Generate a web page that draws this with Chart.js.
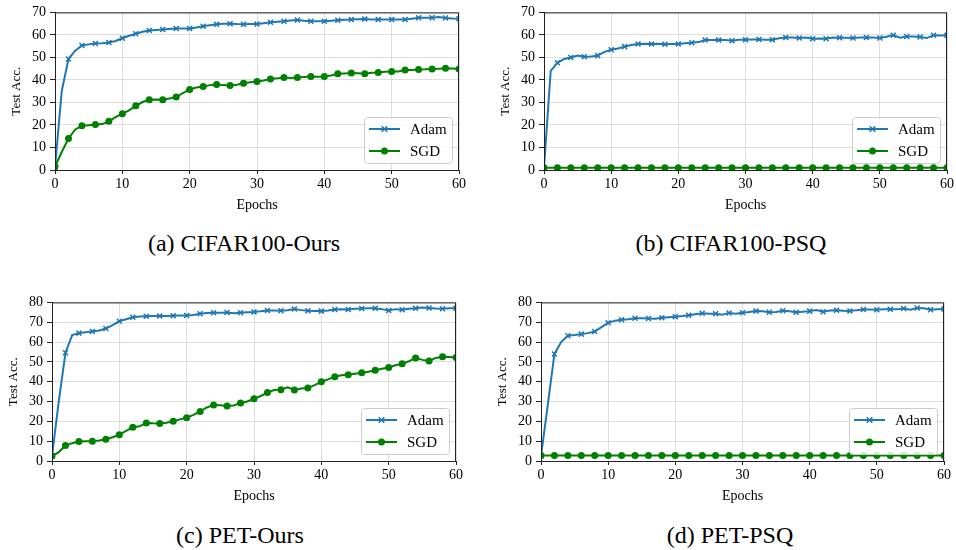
<!DOCTYPE html>
<html>
<head>
<meta charset="utf-8">
<script src="https://cdn.jsdelivr.net/npm/chart.js@4/dist/chart.umd.min.js"></script>
<style>
  body { margin: 0; background: #fff; }
  #wrap { position: relative; width: 956px; height: 550px; overflow: hidden; }
  .panel { position: absolute; }
  .caption { position: absolute; font-family: 'Liberation Serif', 'Times New Roman', serif; font-size: 24px; color: #000; transform: translate(-50%, -50%); white-space: nowrap; }
</style>
</head>
<body>
<div id="wrap"></div>
<script>
const epochs = [
  0, 1, 2, 3, 4, 5, 6, 7, 8, 9,
  10, 11, 12, 13, 14, 15, 16, 17, 18, 19,
  20, 21, 22, 23, 24, 25, 26, 27, 28, 29,
  30, 31, 32, 33, 34, 35, 36, 37, 38, 39,
  40, 41, 42, 43, 44, 45, 46, 47, 48, 49,
  50, 51, 52, 53, 54, 55, 56, 57, 58, 59, 60
];
const xTicks = [0, 10, 20, 30, 40, 50, 60];
const yTicks70 = [0, 10, 20, 30, 40, 50, 60, 70];
const yTicks80 = [0, 10, 20, 30, 40, 50, 60, 70, 80];
const seriesNames = ['Adam', 'SGD'];
const captions = ['(a) CIFAR100-Ours', '(b) CIFAR100-PSQ', '(c) PET-Ours', '(d) PET-PSQ'];

const cifarOursAdam = [
  1, 35, 49.3, 53, 55.3, 55.8, 56.2, 56.3, 56.6, 57.3,
  58.5, 59.6, 60.5, 61.4, 62, 62.2, 62.4, 62.6, 62.8, 62.8,
  62.9, 63.3, 63.9, 64.3, 64.7, 65, 65, 64.8, 64.7, 64.8,
  64.8, 65.2, 65.6, 65.9, 66.1, 66.4, 66.6, 66.3, 66.1, 66.1,
  66.1, 66.3, 66.5, 66.7, 66.8, 67, 67.1, 66.9, 66.8, 66.8,
  66.8, 66.8, 66.8, 67.2, 67.6, 67.6, 67.6, 67.9, 67.5, 67.3, 67.2
];
const cifarOursSgd = [
  1.5, 8, 14, 18, 19.6, 19.9, 20.2, 20.4, 21.6, 23.5,
  25, 26.5, 28.5, 30.2, 31.2, 31.3, 31.2, 31.8, 32.4, 34.2,
  35.8, 36.6, 37.1, 37.7, 38, 37.7, 37.5, 37.9, 38.5, 39,
  39.3, 39.8, 40.4, 40.7, 41.1, 40.9, 41.1, 41.3, 41.5, 41.4,
  41.5, 42, 42.7, 42.9, 43.1, 43, 42.8, 43.2, 43.3, 43.6,
  43.8, 43.8, 44.4, 44.4, 44.6, 44.7, 44.9, 45, 45.2, 45.1, 44.9
];
const cifarPsqAdam = [
  1, 44, 47.6, 49.3, 50, 50.8, 50.3, 50.4, 50.8, 52.5,
  53.4, 54, 54.8, 55.5, 56, 56.1, 56, 56.1, 55.9, 56,
  56, 56.3, 56.5, 56.8, 57.7, 57.7, 57.7, 57.7, 57.4, 57.8,
  57.9, 58, 58, 57.8, 57.9, 58.5, 58.8, 58.9, 58.6, 58.8,
  58.3, 58.4, 58.3, 58.8, 58.7, 58.7, 58.6, 58.9, 58.9, 58.8,
  58.6, 59.2, 59.9, 58.8, 59.3, 59.3, 59.1, 58.6, 59.9, 59.7, 59.8
];
const cifarPsqSgd = [
  1, 1, 1, 1, 1, 1, 1, 1, 1, 1,
  1, 1, 1, 1, 1, 1, 1, 1, 1, 1,
  1, 1, 1, 1, 1, 1, 1, 1, 1, 1,
  1, 1, 1, 1, 1, 1, 1, 1, 1, 1,
  1, 1, 1, 1, 1, 1, 1, 1, 1, 1,
  1, 1, 1, 1, 1, 1, 1, 1, 1, 1, 1
];
const petOursAdam = [
  2.5, 30, 54.6, 63.5, 64.5, 65, 65.3, 65.8, 66.8, 68.5,
  70.5, 71.5, 72.5, 72.9, 73, 73.1, 73.2, 73.1, 73.3, 73.4,
  73.4, 73.7, 74.3, 74.6, 74.8, 74.8, 74.9, 74.5, 74.8, 75,
  75.2, 75.5, 75.9, 75.9, 75.8, 76, 76.7, 76.1, 75.8, 75.7,
  75.6, 75.9, 76.4, 76.6, 76.4, 76.8, 76.9, 77, 77.1, 76.6,
  75.9, 76.6, 76.3, 76.8, 77, 77.4, 77.2, 76.9, 76.8, 77, 77
];
const petOursSgd = [
  2.5, 4.5, 7.8, 9, 9.8, 10, 9.9, 10.3, 11, 12,
  13.3, 15.2, 17, 17.5, 19.2, 19, 18.9, 19.3, 20, 21,
  21.8, 23.3, 25, 27, 28.3, 28.1, 27.7, 28, 29.3, 30,
  31.4, 32.8, 34.5, 35.8, 36, 37.2, 35.8, 36.6, 36.8, 38.3,
  40, 41.2, 42.5, 43.2, 43.5, 44, 44.5, 45, 45.8, 46.5,
  47.2, 48.3, 49, 50.3, 52, 51, 50.5, 52, 52.6, 52.4, 52.2
];
const petPsqAdam = [
  2.5, 28, 54, 60, 63.2, 63.5, 64, 64.5, 65.3, 67.5,
  69.7, 70.8, 71.2, 71.5, 72, 72, 71.9, 71.8, 72.2, 72.5,
  72.8, 73.1, 73.5, 74, 74.5, 74.3, 74.3, 73.8, 74.7, 74.3,
  74.8, 75.2, 75.7, 75.5, 75, 75.2, 75.8, 75.5, 75, 75.3,
  75.6, 76.2, 75.3, 75.9, 76, 75.8, 75.7, 76.1, 76.4, 76.4,
  76.3, 76.5, 76.5, 76.6, 76.9, 76.3, 77.2, 77, 76.3, 76.6, 76.7
];
const petPsqSgd = [
  2.8, 2.8, 2.8, 2.8, 2.8, 2.8, 2.8, 2.8, 2.8, 2.8,
  2.8, 2.8, 2.8, 2.8, 2.8, 2.8, 2.8, 2.8, 2.8, 2.8,
  2.8, 2.8, 2.8, 2.8, 2.8, 2.8, 2.8, 2.8, 2.8, 2.8,
  2.8, 2.8, 2.8, 2.8, 2.8, 2.8, 2.8, 2.8, 2.8, 2.8,
  2.8, 2.8, 2.8, 2.8, 2.8, 2.8, 2.8, 2.8, 2.8, 2.8,
  2.8, 2.8, 2.8, 2.8, 2.8, 2.8, 2.8, 2.8, 2.8, 2.8, 2.8
];

const FONT = "'Liberation Serif', 'Times New Roman', serif";
Chart.defaults.font.family = FONT;
Chart.defaults.color = '#000';

const BLUE = '#1f77b4';
const GREEN = '#008000';

// where each subplot sits on the page (plot area edges in canvas px)
const panels = [
  { adam: cifarOursAdam, sgd: cifarOursSgd, yTicks: yTicks70, left: 0, top: 0, w: 478, h: 222, pl: 55, pr: 459, pt: 10, pb: 170, cx: 244, cy: 243 },
  { adam: cifarPsqAdam, sgd: cifarPsqSgd, yTicks: yTicks70, left: 480, top: 0, w: 476, h: 222, pl: 64, pr: 467, pt: 10, pb: 170, cx: 731, cy: 243 },
  { adam: petOursAdam, sgd: petOursSgd, yTicks: yTicks80, left: 0, top: 290, w: 478, h: 222, pl: 52, pr: 456, pt: 11, pb: 171, cx: 240, cy: 535 },
  { adam: petPsqAdam, sgd: petPsqSgd, yTicks: yTicks80, left: 480, top: 290, w: 476, h: 222, pl: 61, pr: 464, pt: 11, pb: 171, cx: 730, cy: 535 }
];

function drawMarker(ctx, style, x, y, r, color) {
  ctx.save();
  ctx.strokeStyle = color;
  ctx.fillStyle = color;
  if (style === 'crossRot') {
    ctx.lineWidth = 1.5;
    ctx.beginPath();
    ctx.moveTo(x - r * 0.8, y - r * 0.8); ctx.lineTo(x + r * 0.8, y + r * 0.8);
    ctx.moveTo(x - r * 0.8, y + r * 0.8); ctx.lineTo(x + r * 0.8, y - r * 0.8);
    ctx.stroke();
  } else {
    ctx.beginPath();
    ctx.arc(x, y, r, 0, Math.PI * 2);
    ctx.fill();
  }
  ctx.restore();
}

// top/right spines plus the lower-right legend box
const framePlugin = {
  id: 'frame',
  afterDraw(chart) {
    const { ctx, chartArea: a } = chart;
    ctx.save();
    ctx.strokeStyle = '#222';
    ctx.lineWidth = 1;
    ctx.strokeRect(a.left + 0.5, a.top + 0.5, a.right - a.left - 1, a.bottom - a.top);

    const bw = 88, bh = 46;
    const bx = a.right - 7 - bw, by = a.bottom - 7 - bh;
    ctx.fillStyle = 'rgba(255,255,255,0.8)';
    ctx.strokeStyle = '#cccccc';
    ctx.beginPath();
    ctx.roundRect(bx + 0.5, by + 0.5, bw, bh, 3);
    ctx.fill();
    ctx.stroke();

    ctx.font = '15px ' + FONT;
    ctx.textBaseline = 'middle';
    chart.data.datasets.forEach((ds, i) => {
      const y = by + 12 + i * 22;
      ctx.strokeStyle = ds.borderColor;
      ctx.lineWidth = 2;
      ctx.beginPath();
      ctx.moveTo(bx + 5, y); ctx.lineTo(bx + 36, y);
      ctx.stroke();
      drawMarker(ctx, ds.pointStyle, bx + 20.5, y, 3.5, ds.borderColor);
      ctx.fillStyle = '#000';
      ctx.fillText(ds.label, bx + 46, y + 1);
    });
    ctx.restore();
  }
};

const wrap = document.getElementById('wrap');

panels.forEach((p, k) => {
  const div = document.createElement('div');
  div.className = 'panel';
  div.style.left = p.left + 'px';
  div.style.top = p.top + 'px';
  const canvas = document.createElement('canvas');
  canvas.width = p.w;
  canvas.height = p.h;
  div.appendChild(canvas);
  wrap.appendChild(div);

  const cap = document.createElement('div');
  cap.className = 'caption';
  cap.style.left = p.cx + 'px';
  cap.style.top = p.cy + 'px';
  cap.textContent = captions[k];
  wrap.appendChild(cap);

  const everyOther = (r) => (ctx) => (ctx.dataIndex % 2 === 0 ? r : 0);

  new Chart(canvas, {
    type: 'line',
    data: {
      datasets: [
        {
          label: seriesNames[0],
          data: epochs.map((e, i) => ({ x: e, y: p.adam[i] })),
          borderColor: BLUE,
          backgroundColor: BLUE,
          borderWidth: 2,
          pointStyle: 'crossRot',
          pointRadius: everyOther(3.5),
          pointBorderWidth: 1.5,
          pointBorderColor: BLUE,
          tension: 0,
          order: 2
        },
        {
          label: seriesNames[1],
          data: epochs.map((e, i) => ({ x: e, y: p.sgd[i] })),
          borderColor: GREEN,
          backgroundColor: GREEN,
          borderWidth: 2,
          pointStyle: 'circle',
          pointRadius: everyOther(3.5),
          pointBorderWidth: 0,
          tension: 0,
          order: 1
        }
      ]
    },
    options: {
      responsive: false,
      animation: false,
      layout: { padding: { left: 0, right: p.w - p.pr, top: p.pt, bottom: p.h - p.pb - 50 } },
      plugins: { legend: { display: false }, tooltip: { enabled: false } },
      scales: {
        x: {
          type: 'linear',
          min: 0,
          max: 60,
          afterBuildTicks: (s) => { s.ticks = xTicks.map(v => ({ value: v })); },
          afterFit: (s) => { s.height = 50; },
          ticks: { font: { size: 14 }, padding: 2, maxRotation: 0 },
          grid: { color: '#dedede', tickColor: '#222', tickLength: 4 },
          border: { color: '#222', width: 1 },
          title: { display: true, text: 'Epochs', font: { size: 14 }, padding: { top: 0, bottom: 6.6 } }
        },
        y: {
          min: 0,
          max: p.yTicks[p.yTicks.length - 1],
          afterBuildTicks: (s) => { s.ticks = p.yTicks.map(v => ({ value: v })); },
          afterFit: (s) => { s.width = p.pl; },
          ticks: { font: { size: 14 }, padding: 4 },
          grid: { color: '#dedede', tickColor: '#222', tickLength: 5 },
          border: { color: '#222', width: 1 },
          title: { display: true, text: 'Test Acc.', font: { size: 13 }, padding: { top: p.pl - 38 - 7.8, bottom: 0 } }
        }
      }
    },
    plugins: [framePlugin]
  });
});
</script>
</body>
</html>
